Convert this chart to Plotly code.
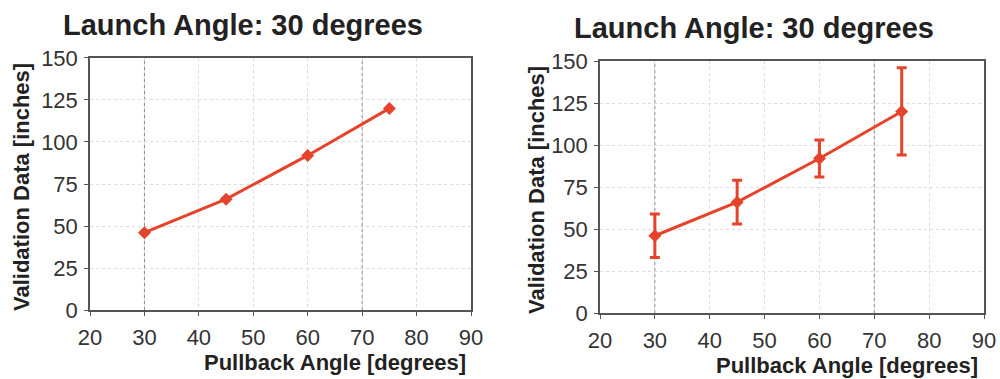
import plotly.graph_objects as go

pullback = [30, 45, 60, 75]
distance = [46, 66, 92, 120]
err = [13, 13, 11, 26]
title_text = "Launch Angle: 30 degrees"
x_title = "Pullback Angle [degrees]"
y_title = "Validation Data [inches]"
x_ticks = [20, 30, 40, 50, 60, 70, 80, 90]
y_ticks = [0, 25, 50, 75, 100, 125, 150]

RED = "#e5432c"
fig = go.Figure()
fig.add_trace(go.Scatter(x=pullback, y=distance, mode="lines+markers",
                         line=dict(color=RED, width=3),
                         marker=dict(symbol="diamond", size=10, color=RED),
                         xaxis="x", yaxis="y", showlegend=False))
fig.add_trace(go.Scatter(x=pullback, y=distance, mode="lines+markers",
                         line=dict(color=RED, width=3),
                         marker=dict(symbol="diamond", size=10, color=RED),
                         error_y=dict(type="data", array=err, visible=True,
                                      color=RED, thickness=3, width=5),
                         xaxis="x2", yaxis="y2", showlegend=False))

tickfont = dict(family="Liberation Sans, Arial", size=22, color="#333")
def xax(domain, anchor):
    return dict(domain=domain, anchor=anchor, range=[20, 90], tickvals=x_ticks,
                showgrid=True, gridcolor="#dcdcdc", griddash="dot", gridwidth=1,
                showline=True, linecolor="#555", linewidth=1.5, mirror=True,
                ticks="outside", ticklen=4, tickcolor="#555", ticklabelstandoff=3,
                tickfont=tickfont, zeroline=False, fixedrange=True, automargin=False)
def yax(domain, anchor):
    return dict(domain=domain, anchor=anchor, range=[0, 150], tickvals=y_ticks,
                showgrid=True, gridcolor="#dcdcdc", griddash="dot", gridwidth=1,
                showline=True, linecolor="#555", linewidth=1.5, mirror=True,
                ticks="outside", ticklen=4, tickcolor="#555", ticklabelstandoff=2,
                tickfont=tickfont, zeroline=False, fixedrange=True, automargin=False)

fig.update_layout(
    width=1000, height=379, margin=dict(l=0, r=0, t=0, b=0),
    paper_bgcolor="white", plot_bgcolor="white",
    xaxis=xax([0.090, 0.471], "y"), yaxis=yax([0.182, 0.847], "x"),
    xaxis2=xax([0.600, 0.984], "y2"), yaxis2=yax([0.174, 0.839], "x2"),
)

# darker dotted vertical gridlines at 30 and 70
for xv in [30, 70]:
    for xr, yr in [("x", "y"), ("x2", "y2")]:
        fig.add_shape(type="line", xref=xr, yref=yr, x0=xv, x1=xv, y0=0, y1=150,
                      line=dict(color="#888", width=1, dash="dot"), layer="below")

tfont = dict(family="Liberation Sans, Arial", size=29, color="#222")
afont = dict(family="Liberation Sans, Arial", size=22, color="#222")
anns = [
    dict(text=f"<b>{title_text}</b>", x=0.243, y=1 - 25/379, font=tfont),
    dict(text=f"<b>{title_text}</b>", x=0.754, y=1 - 28/379, font=tfont),
    dict(text=f"<b>{x_title}</b>", x=0.335, y=1 - 362/379, font=afont),
    dict(text=f"<b>{x_title}</b>", x=0.847, y=1 - 365/379, font=afont),
    dict(text=f"<b>{y_title}</b>", x=0.021, y=1 - 187/379, font=afont, textangle=-90),
    dict(text=f"<b>{y_title}</b>", x=0.536, y=1 - 190/379, font=afont, textangle=-90),
]
for a in anns:
    fig.add_annotation(xref="paper", yref="paper", showarrow=False,
                       xanchor="center", yanchor="middle", **a)

fig.write_html("out.html")
